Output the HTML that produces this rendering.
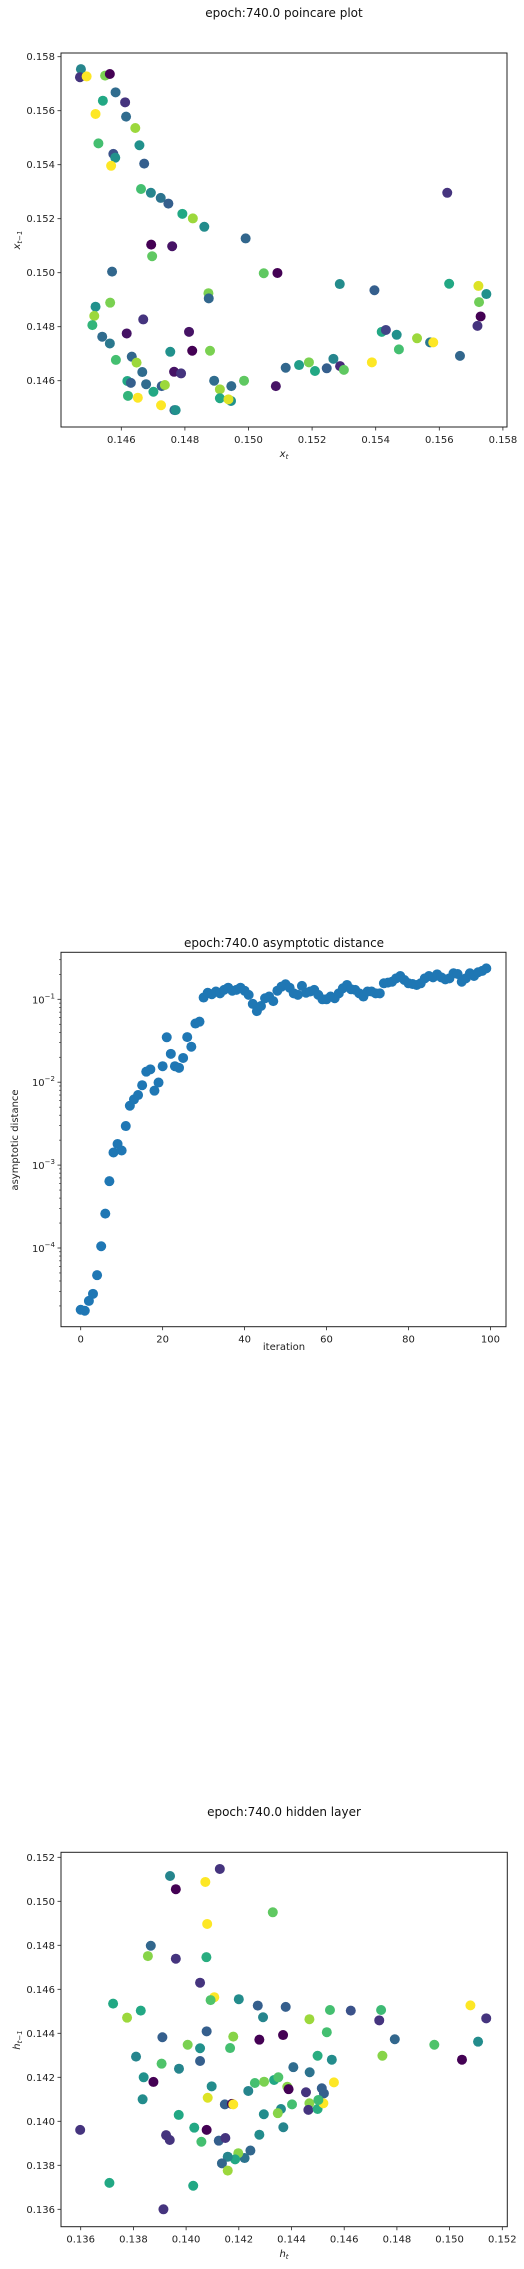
<!DOCTYPE html>
<html><head><meta charset="utf-8"><style>
html,body{margin:0;padding:0;background:#fff;}
svg{display:block;font-family:"DejaVu Sans","Liberation Sans",sans-serif;}
</style></head><body>
<svg id="fig" width="524" height="2269" viewBox="0 0 524 2269" xmlns="http://www.w3.org/2000/svg">
<rect width="524" height="2269" fill="#fff"/>
</svg>
<script>
// ---------- Plot 1: poincare ----------
const p1X = [0.14473,0.14470,0.14491,0.14549,0.14564,0.14582,0.14542,0.14612,0.14519,0.14615,0.14644,0.14528,0.14657,0.14575,0.14581,0.14568,0.14672,0.14662,0.14693,0.14724,0.14748,0.14792,0.14825,0.14861,0.14991,0.14694,0.14760,0.14697,0.14571,0.15048,0.15091,0.15287,0.14874,0.14875,0.14565,0.14519,0.14515,0.14669,0.14509,0.15625,0.15396,0.15631,0.15723,0.15748,0.15725,0.15730,0.15720,0.15419,0.15432,0.15466,0.15530,0.15571,0.15581,0.15473,0.15665,0.14540,0.14617,0.14813,0.14564,0.14754,0.14823,0.14879,0.14583,0.14633,0.14648,0.14666,0.14766,0.14788,0.14619,0.14630,0.14678,0.14701,0.14727,0.14737,0.14892,0.14986,0.14910,0.14910,0.14946,0.14945,0.14937,0.15086,0.14621,0.14652,0.14725,0.14767,0.14771,0.15117,0.15159,0.15190,0.15209,0.15246,0.15267,0.15288,0.15300,0.15388];
const p1Y = [0.15754,0.15724,0.15727,0.15730,0.15736,0.15668,0.15637,0.15631,0.15588,0.15578,0.15536,0.15479,0.15472,0.15440,0.15426,0.15396,0.15404,0.15310,0.15296,0.15277,0.15256,0.15218,0.15201,0.15170,0.15127,0.15104,0.15098,0.15061,0.15004,0.14998,0.14999,0.14958,0.14924,0.14905,0.14889,0.14874,0.14840,0.14827,0.14806,0.15296,0.14935,0.14959,0.14951,0.14921,0.14891,0.14838,0.14803,0.14781,0.14788,0.14770,0.14757,0.14742,0.14742,0.14716,0.14692,0.14763,0.14775,0.14781,0.14738,0.14707,0.14711,0.14711,0.14677,0.14689,0.14667,0.14632,0.14633,0.14627,0.14599,0.14592,0.14587,0.14559,0.14580,0.14584,0.14600,0.14600,0.14568,0.14535,0.14580,0.14525,0.14531,0.14580,0.14544,0.14537,0.14509,0.14491,0.14491,0.14648,0.14658,0.14668,0.14636,0.14646,0.14681,0.14654,0.14640,0.14668];
const p1C = [0.45,0.15,1,0.8,0,0.35,0.6,0.15,1,0.35,0.85,0.7,0.5,0.25,0.5,1,0.3,0.7,0.45,0.38,0.3,0.6,0.85,0.48,0.33,0,0.05,0.75,0.33,0.75,0,0.48,0.8,0.33,0.8,0.5,0.85,0.15,0.65,0.15,0.3,0.6,0.95,0.5,0.78,0,0.15,0.6,0.2,0.5,0.85,0.4,1,0.7,0.33,0.35,0.05,0.05,0.4,0.5,0,0.8,0.7,0.33,0.85,0.35,0.05,0.15,0.6,0.3,0.35,0.6,0.3,0.85,0.35,0.75,0.85,0.6,0.35,0.5,0.95,0.05,0.65,1,1,0.35,0.5,0.33,0.55,0.8,0.6,0.3,0.45,0.12,0.75,1];
const p1Ticks = [0.146,0.148,0.150,0.152,0.154,0.156,0.158];
const p1TickLabels = ["0.146","0.148","0.150","0.152","0.154","0.156","0.158"];

// ---------- Plot 2: asymptotic distance ----------
const p2Iter = Array.from({length:100},(_, i)=>i);
const p2Dist = [1.8e-5,1.75e-5,2.3e-5,2.8e-5,4.7e-5,1.05e-4,2.6e-4,6.4e-4,1.42e-3,1.8e-3,1.5e-3,2.96e-3,5.2e-3,6.2e-3,7.0e-3,9.2e-3,1.34e-2,1.43e-2,7.9e-3,9.9e-3,1.56e-2,3.48e-2,2.2e-2,1.56e-2,1.49e-2,1.96e-2,3.5e-2,2.68e-2,5.1e-2,5.37e-2,0.105,0.12,0.115,0.124,0.118,0.13,0.138,0.127,0.13,0.138,0.127,0.113,0.088,0.072,0.083,0.103,0.108,0.095,0.127,0.142,0.152,0.138,0.118,0.113,0.145,0.12,0.124,0.13,0.113,0.1,0.1,0.108,0.103,0.118,0.136,0.149,0.132,0.13,0.118,0.108,0.124,0.124,0.118,0.118,0.156,0.159,0.163,0.179,0.191,0.171,0.156,0.153,0.149,0.156,0.179,0.191,0.184,0.2,0.184,0.174,0.179,0.206,0.202,0.163,0.179,0.206,0.191,0.212,0.22,0.236];
const p2XTicks = [0,20,40,60,80,100];
const p2XTickLabels = ["0","20","40","60","80","100"];
const p2YDecades = [-4,-3,-2,-1];

// ---------- Plot 3: hidden layer ----------
const p3X = [0.13939,0.13961,0.14073,0.14128,0.14329,0.14080,0.13866,0.13855,0.13961,0.14077,0.14053,0.14107,0.14093,0.14200,0.13723,0.13828,0.13776,0.14272,0.14292,0.14378,0.14468,0.14546,0.14625,0.14534,0.14078,0.13910,0.14179,0.14278,0.14368,0.14006,0.14053,0.14167,0.13810,0.13907,0.13973,0.14053,0.14499,0.14553,0.14407,0.14469,0.13839,0.13876,0.14097,0.14236,0.14261,0.14296,0.14334,0.14350,0.14384,0.14389,0.14561,0.14515,0.14455,0.13835,0.14082,0.14147,0.14174,0.14179,0.14360,0.14402,0.14348,0.14468,0.14464,0.14499,0.14521,0.14523,0.14502,0.13972,0.14295,0.14369,0.13598,0.14031,0.14078,0.13924,0.13938,0.14058,0.14124,0.14149,0.14278,0.14244,0.14222,0.14198,0.14186,0.14158,0.14136,0.14158,0.13709,0.14027,0.13914,0.15079,0.15139,0.15108,0.15047,0.14942,0.14792,0.14745,0.14740,0.14733];
const p3Y = [0.15115,0.15055,0.15088,0.15147,0.14950,0.14897,0.14798,0.14751,0.14739,0.14746,0.14630,0.14564,0.14551,0.14555,0.14535,0.14503,0.14471,0.14526,0.14473,0.14520,0.14464,0.14506,0.14503,0.14405,0.14409,0.14382,0.14385,0.14371,0.14392,0.14348,0.14332,0.14333,0.14294,0.14262,0.14239,0.14274,0.14298,0.14280,0.14246,0.14223,0.14200,0.14179,0.14159,0.14138,0.14174,0.14180,0.14188,0.14200,0.14157,0.14146,0.14177,0.14150,0.14132,0.14100,0.14107,0.14077,0.14079,0.14077,0.14056,0.14077,0.14037,0.14082,0.14052,0.14056,0.14082,0.14127,0.14097,0.14029,0.14032,0.13973,0.13961,0.13971,0.13961,0.13937,0.13915,0.13907,0.13912,0.13924,0.13939,0.13867,0.13833,0.13855,0.13827,0.13839,0.13809,0.13776,0.13720,0.13707,0.13600,0.14527,0.14468,0.14362,0.14280,0.14348,0.14373,0.14298,0.14506,0.14459];
const p3C = [0.45,0,1,0.15,0.75,1,0.33,0.82,0.15,0.62,0.15,1,0.72,0.48,0.6,0.6,0.85,0.3,0.45,0.3,0.85,0.7,0.25,0.7,0.3,0.3,0.82,0,0,0.8,0.5,0.7,0.45,0.72,0.45,0.3,0.62,0.48,0.35,0.38,0.5,0,0.48,0.45,0.7,0.8,0.6,0.72,0.82,0,1,0.3,0.15,0.48,0.95,0.3,0,1,0.48,0.7,0.82,0.82,0.15,0.62,1,0.3,0.68,0.6,0.48,0.45,0.15,0.6,0,0.15,0.15,0.7,0.3,0.15,0.48,0.33,0.38,0.82,0.6,0.45,0.33,0.85,0.6,0.6,0.15,1,0.15,0.48,0,0.72,0.33,0.82,0.68,0.15];
const p3Ticks = [0.136,0.138,0.140,0.142,0.144,0.146,0.148,0.150,0.152];
const p3TickLabels = ["0.136","0.138","0.140","0.142","0.144","0.146","0.148","0.150","0.152"];

const NS = "http://www.w3.org/2000/svg";
const fig = document.getElementById('fig');
const VIR = [[68,1,84],[72,36,117],[65,68,135],[53,95,141],[42,120,142],[33,145,140],[34,168,132],[68,191,112],[122,209,81],[189,223,38],[253,231,37]];
function viridis(t){t=Math.max(0,Math.min(1,t))*10;const i=Math.min(9,Math.floor(t));const f=t-i;const a=VIR[i],b=VIR[i+1];
 return 'rgb('+a.map((v,k)=>Math.round(v+(b[k]-v)*f)).join(',')+')';}
function el(tag, attrs, parent){const e=document.createElementNS(NS,tag);for(const k in attrs)e.setAttribute(k,attrs[k]);(parent||fig).appendChild(e);return e;}
function txt(s, attrs, parent){const t=el('text',attrs,parent);t.textContent=s;return t;}

function frame(g,L,T,R,B){
  const r=el('rect',{x:L,y:T,width:R-L,height:B-T,fill:'none',stroke:'#222','stroke-width':1},g);
  
  
}
function xTick(g,px,B,label){
  el('line',{x1:px,x2:px,y1:B,y2:B+3.5,stroke:'#222','stroke-width':0.8},g);
  const t=txt(label,{x:px,y:B+16,'font-size':10,'text-anchor':'middle',fill:'#222'},g);
  
  
}
function yTick(g,py,L,label){
  el('line',{x1:L-3.5,x2:L,y1:py,y2:py,stroke:'#222','stroke-width':0.8},g);
  const t=txt(label,{x:L-6,y:py+3.5,'font-size':10,'text-anchor':'end',fill:'#222'},g);
  
  
}
function title(g,s,x,y){const t=txt(s,{x:x,y:y,'font-size':12,'text-anchor':'middle',fill:'#111'},g);
  
  }

// ---- Plot 1 ----
(function(){
  const g=el('g',{});
  
  
  const L=61,T=53,R=507,B=427;
  const sx=v=>121.3+(v-0.146)*31800, sy=v=>56.7+(0.158-v)*27000;
  title(g,'epoch:740.0 poincare plot',284,17);
  for(let i=0;i<p1X.length;i++){
    const c=el('circle',{cx:sx(p1X[i]),cy:sy(p1Y[i]),r:5,fill:viridis(p1C[i])},g);
    
    
  }
  frame(g,L,T,R,B);
  p1Ticks.forEach((v,i)=>{xTick(g,sx(v),B,p1TickLabels[i]);yTick(g,sy(v),L,p1TickLabels[i]);});
  const xl=txt('',{x:284,y:457,'font-size':10,'text-anchor':'middle','font-style':'italic',fill:'#222'},g);
  xl.innerHTML='x<tspan font-size="7" dy="2">t</tspan>';
  
  
  const yl=txt('',{x:0,y:0,'font-size':10,'text-anchor':'middle','font-style':'italic',fill:'#222',transform:'translate(20,240) rotate(-90)'},g);
  yl.innerHTML='x<tspan font-size="7" dy="2">t−1</tspan>';
  
  
})();

// ---- Plot 2 ----
(function(){
  const g=el('g',{});
  
  
  const L=61,T=952.3,R=506,B=1326.7;
  const sx=v=>80.7+v*4.097, sy=v=>999.3+(-1-Math.log10(v))*82.9;
  title(g,'epoch:740.0 asymptotic distance',284,947);
  for(let i=0;i<p2Iter.length;i++){
    const c=el('circle',{cx:sx(p2Iter[i]),cy:sy(p2Dist[i]),r:5,fill:'#1f77b4'},g);
    
    
  }
  frame(g,L,T,R,B);
  p2XTicks.forEach((v,i)=>xTick(g,sx(v),B,p2XTickLabels[i]));
  for(let d=-5; d<=0; d++){
    for(let m=2;m<=9;m++){const py=sy(m*Math.pow(10,d)); if(py>T&&py<B) el('line',{x1:L-2,x2:L,y1:py,y2:py,stroke:'#222','stroke-width':0.6},g);}
  }
  p2YDecades.forEach(d=>{
    const py=sy(Math.pow(10,d));
    el('line',{x1:L-3.5,x2:L,y1:py,y2:py,stroke:'#222','stroke-width':0.8},g);
    const t=txt('',{x:L-6,y:py+4,'font-size':10,'text-anchor':'end',fill:'#222'},g);
    t.innerHTML='10<tspan font-size="7" dy="-5">−'+(-d)+'</tspan>';
    
    
  });
  const xl=txt('iteration',{x:284,y:1350,'font-size':10,'text-anchor':'middle',fill:'#222'},g);
  
  
  const yl=txt('asymptotic distance',{x:0,y:0,'font-size':10,'text-anchor':'middle',fill:'#222',transform:'translate(18,1140) rotate(-90)'},g);
  
  
})();

// ---- Plot 3 ----
(function(){
  const g=el('g',{});
  
  
  const L=61,T=1852.3,R=507.3,B=2226.7;
  const sx=v=>80.7+(v-0.136)*26350, sy=v=>1857.3+(0.152-v)*22000;
  title(g,'epoch:740.0 hidden layer',284,1816);
  for(let i=0;i<p3X.length;i++){
    const c=el('circle',{cx:sx(p3X[i]),cy:sy(p3Y[i]),r:5,fill:viridis(p3C[i])},g);
    
    
  }
  frame(g,L,T,R,B);
  p3Ticks.forEach((v,i)=>{xTick(g,sx(v),B,p3TickLabels[i]);yTick(g,sy(v),L,p3TickLabels[i]);});
  const xl=txt('',{x:284,y:2257,'font-size':10,'text-anchor':'middle','font-style':'italic',fill:'#222'},g);
  xl.innerHTML='h<tspan font-size="7" dy="2">t</tspan>';
  
  
  const yl=txt('',{x:0,y:0,'font-size':10,'text-anchor':'middle','font-style':'italic',fill:'#222',transform:'translate(20,2040) rotate(-90)'},g);
  yl.innerHTML='h<tspan font-size="7" dy="2">t−1</tspan>';
  
  
})();
</script>
</body></html>
